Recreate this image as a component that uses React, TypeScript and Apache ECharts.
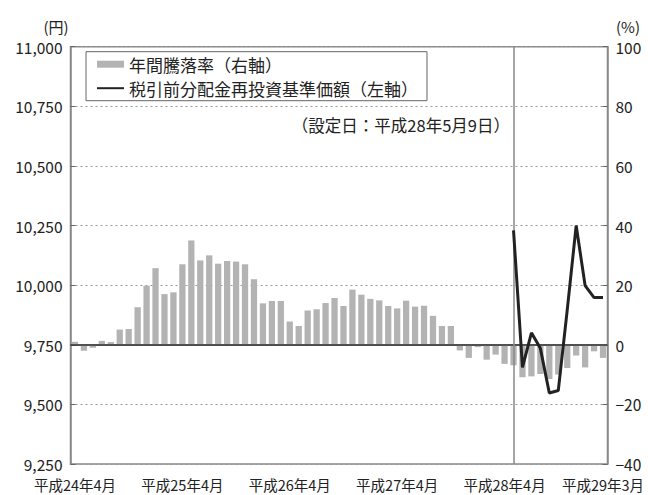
import React, { useEffect, useRef } from "react";
import * as echarts from "echarts";

const FONT = "'Noto Sans CJK JP', 'Noto Sans', sans-serif";

// Monthly categories: 平成24年4月 … 平成29年3月 (60 months)
const categories: string[] = [];
for (let i = 0; i < 60; i++) {
  const m = ((3 + i) % 12) + 1;
  const y = 24 + Math.floor((3 + i) / 12);
  categories.push(`平成${y}年${m}月`);
}

// indices of months that carry a tick label
const labelIndices = [0, 12, 24, 36, 48, 59];

// 年間騰落率 (%) – right axis
const annualReturn = [
  1, -2, -1, 1.3, 0.9, 5.1, 5.3, 12.6, 19.8, 25.7, 17, 17.6,
  27, 35, 28.3, 30, 27.2, 28.1, 27.9, 27, 22, 13.9, 14.7, 14.7,
  7.8, 6.3, 11.5, 11.9, 14, 15.7, 13, 18.5, 16.8, 15.4, 14.9, 13,
  12.2, 14.8, 12.8, 13.1, 9.7, 6.3, 6.3, -1.9, -4.4, -0.8, -5, -3.3,
  -6.4, -6.9, -10.9, -10.6, -9.8, -11.5, -10, -7.8, -3.6, -7.6, -2.2, -4.4,
];

// 税引前分配金再投資基準価額 (円) – left axis, starts at 設定日 (index 49)
const navStartIndex = 49;
const navValues = [10230, 9655, 9800, 9735, 9548, 9558, 9895, 10250, 9998, 9948, 9948];

const navSeries: (number | null)[] = categories.map((_, i) =>
  i >= navStartIndex ? navValues[i - navStartIndex] : null
);

const leftTicks = { min: 9250, max: 11000, interval: 250 };
const rightTicks = { min: -40, max: 100, interval: 20 };

const legendBar = "年間騰落率（右軸）";
const legendLine = "税引前分配金再投資基準価額（左軸）";
const noteText = "（設定日：平成28年5月9日）";

export default function App() {
  const ref = useRef<HTMLDivElement>(null);

  useEffect(() => {
    if (!ref.current) return;
    const chart = echarts.init(ref.current, null, { renderer: "svg" });
    const axisColor = "#888";
    const option: any = {
      animation: false,
      backgroundColor: "#fff",
      textStyle: { fontFamily: FONT },
      grid: {
        left: 70.5,
        right: 40.5,
        top: 46.7,
        bottom: 31,
        show: true,
        borderColor: axisColor,
        borderWidth: 1.5,
        backgroundColor: "transparent",
      },
      legend: {
        orient: "vertical",
        left: 86,
        top: 51.7,
        padding: [4, 9, 4, 10],
        itemGap: 7,
        itemWidth: 27,
        itemHeight: 7,
        borderColor: "#666",
        borderWidth: 1,
        textStyle: { fontSize: 17, lineHeight: 17, color: "#222", fontFamily: FONT },
        data: [
          { name: legendBar, icon: "rect" },
          { name: legendLine, itemStyle: { opacity: 0 } },
        ],
      },
      xAxis: {
        type: "category",
        data: categories,
        boundaryGap: true,
        axisLine: { lineStyle: { color: axisColor, width: 1.5 } },
        axisTick: {
          inside: true,
          length: 5,
          alignWithLabel: true,
          interval: (i: number) => labelIndices.includes(i),
          lineStyle: { color: "#666" },
        },
        axisLabel: {
          interval: (i: number) => labelIndices.includes(i),
          fontSize: 14.5,
          lineHeight: 14,
          color: "#222",
          margin: 13,
          fontFamily: FONT,
        },
        splitLine: { show: false },
      },
      yAxis: [
        {
          type: "value",
          position: "left",
          ...leftTicks,
          axisLine: { show: true, lineStyle: { color: axisColor, width: 1.5 } },
          axisTick: { show: true, inside: true, length: 5, lineStyle: { color: "#666" } },
          axisLabel: {
            fontSize: 15.5,
            lineHeight: 12,
            color: "#222",
            margin: 8,
            fontFamily: FONT,
            formatter: (v: number) => v.toLocaleString("en-US"),
          },
          splitLine: {
            show: true,
            lineStyle: { color: "#999", type: [2, 3], width: 1 },
          },
        },
        {
          type: "value",
          position: "right",
          ...rightTicks,
          axisLine: { show: true, lineStyle: { color: axisColor, width: 1.5 } },
          axisTick: { show: true, inside: true, length: 5, lineStyle: { color: "#666" } },
          axisLabel: {
            fontSize: 15.5,
            lineHeight: 12,
            color: "#222",
            margin: 8,
            fontFamily: FONT,
            formatter: (v: number) => String(v).replace("-", "−"),
          },
          splitLine: { show: false },
        },
      ],
      series: [
        {
          name: legendBar,
          type: "bar",
          yAxisIndex: 1,
          data: annualReturn,
          barCategoryGap: "30%",
          itemStyle: { color: "#b3b3b3" },
          markLine: {
            silent: true,
            symbol: "none",
            label: { show: false },
            lineStyle: { color: "#333", width: 1.5, type: "solid" },
            data: [{ yAxis: 0 }],
          },
        },
        {
          name: legendLine,
          type: "line",
          yAxisIndex: 0,
          data: navSeries,
          symbol: "none",
          connectNulls: false,
          lineStyle: { color: "#222", width: 3 },
          itemStyle: { color: "#222" },
          z: 5,
          markLine: {
            silent: true,
            symbol: "none",
            label: { show: false },
            lineStyle: { color: "#888", width: 1.5, type: "solid" },
            data: [{ xAxis: categories[navStartIndex] }],
          },
        },
      ],
      graphic: [
        {
          type: "text",
          x: 56,
          y: 26,
          style: {
            text: "(円)",
            fontSize: 15,
            fill: "#222",
            fontFamily: FONT,
            align: "center",
            verticalAlign: "middle",
          },
        },
        {
          type: "text",
          x: 628,
          y: 26,
          style: {
            text: "(%)",
            fontSize: 15,
            fill: "#222",
            fontFamily: FONT,
            align: "center",
            verticalAlign: "middle",
          },
        },
        {
          type: "text",
          x: 510,
          y: 125,
          style: {
            text: noteText,
            fontSize: 16.5,
            fill: "#222",
            fontFamily: FONT,
            align: "right",
            verticalAlign: "middle",
          },
        },
      ],
    };
    chart.setOption(option);
    return () => chart.dispose();
  }, []);

  return (
    <div
      ref={ref}
      style={{ position: "fixed", left: 0, top: 0, width: 648, height: 495, background: "#fff" }}
    />
  );
}
